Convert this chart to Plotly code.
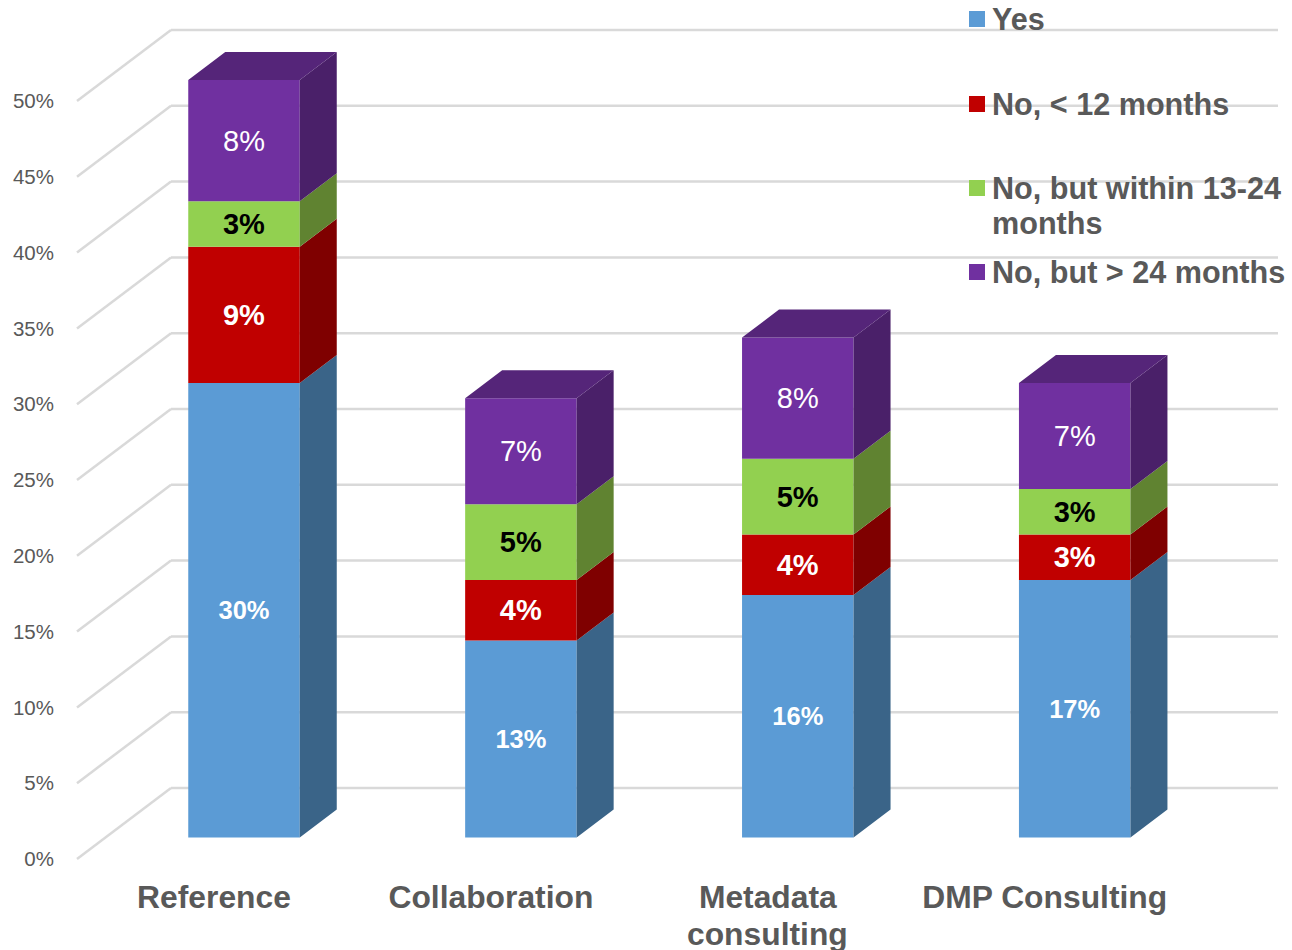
import plotly.graph_objects as go

categories = ["Reference", "Collaboration", "Metadata", "DMP Consulting"]
series_names = ["Yes", "No, < 12 months", "No, but within 13-24", "No, but > 24 months"]
yes = [30, 13, 16, 17]
no_12 = [9, 4, 4, 3]
no_24 = [3, 5, 5, 3]
no_over = [8, 7, 8, 7]
series_values = [yes, no_12, no_24, no_over]
y_ticks = list(range(0, 55, 5))

front_colors = ["#5B9BD5", "#C00000", "#92D050", "#7030A0"]
side_colors = ["#3A6488", "#7F0000", "#608331", "#4A2069"]
top_color = "#552579"
text_colors = ["white", "white", "black", "white"]
text_sizes = [25.5, 29, 29, 29]
text_weights = ["bold", "bold", "bold", "normal"]

FONT = "Liberation Sans"
W, H = 1292, 950
ML, MB = 55, 75
X0, XS = 244.0, 276.9   # pixel of category 0 centre, pixels per category
Y0, YS = 837.5, 15.15   # pixel of value 0 on the front plane, pixels per percent
GS = 15.16 / YS         # grid spacing relative to the bar scale
BAR = 111.5 / XS
DX, DY = 37 / XS, 28 / YS
BACK = 49.5 / YS        # rise of the back wall
FRONT = -21.5 / YS      # drop of the front edge of the floor


def px_x(p):
    return (p - X0) / XS


def px_y(p):
    return (Y0 - p) / YS


fig = go.Figure()
xs = list(range(len(categories)))
bases = [0] * len(categories)
for k, vals in enumerate(series_values):
    fig.add_trace(go.Bar(
        x=xs, y=vals, base=bases, width=BAR, name=series_names[k],
        marker=dict(color=front_colors[k], line=dict(width=0)),
        text=[f"{v}%" for v in vals], textposition="inside", insidetextanchor="middle",
        textangle=0, constraintext="none",
        textfont=dict(family=FONT, size=text_sizes[k], color=text_colors[k], weight=text_weights[k]),
        showlegend=False, hoverinfo="skip",
    ))
    px, py = [], []
    for i, v in enumerate(vals):
        r = i + BAR / 2
        b, t = bases[i], bases[i] + v
        px += [r, r + DX, r + DX, r, r, None]
        py += [b, b + DY, t + DY, t, b, None]
    fig.add_trace(go.Scatter(x=px, y=py, mode="none", fill="toself", fillcolor=side_colors[k],
                             showlegend=False, hoverinfo="skip"))
    bases = [a + v for a, v in zip(bases, vals)]

px, py = [], []
for i, t in enumerate(bases):
    l, r = i - BAR / 2, i + BAR / 2
    px += [l, r, r + DX, l + DX, l, None]
    py += [t, t, t + DY, t + DY, t, None]
fig.add_trace(go.Scatter(x=px, y=py, mode="none", fill="toself", fillcolor=top_color,
                         showlegend=False, hoverinfo="skip"))

shapes = []
grid = dict(color="#D9D9D9", width=2.5)
for v in y_ticks:
    shapes.append(dict(type="line", xref="x", yref="y", layer="below", line=grid,
                       x0=px_x(77), y0=v * GS + FRONT, x1=px_x(171), y1=v * GS + BACK))
    shapes.append(dict(type="line", xref="x", yref="y", layer="below", line=grid,
                       x0=px_x(171), y0=v * GS + BACK, x1=px_x(1278), y1=v * GS + BACK))

legend_lines = [[series_names[0]], [series_names[1]], [series_names[2], "months"], [series_names[3]]]
legend_y = [19, 104, 188, 272]
annotations = []
for k, lines in enumerate(legend_lines):
    yc = legend_y[k]
    shapes.append(dict(type="rect", xref="paper", yref="paper", layer="above", line=dict(width=0),
                       fillcolor=front_colors[k],
                       x0=(969 - ML) / (W - ML), x1=(985 - ML) / (W - ML),
                       y0=(H - MB - yc - 8) / (H - MB), y1=(H - MB - yc + 8) / (H - MB)))
    for j, line in enumerate(lines):
        annotations.append(dict(text=line, xref="paper", yref="paper", showarrow=False,
                                x=(991 - ML) / (W - ML), xanchor="left",
                                y=(H - MB - (yc + 35 * j)) / (H - MB), yanchor="middle",
                                borderpad=0, font=dict(family=FONT, size=30.6, color="#595959", weight="bold")))
annotations.append(dict(text="consulting", xref="x", yref="paper", showarrow=False,
                        x=2 - 30 / XS, xanchor="center", y=-(934 - (H - MB)) / (H - MB), yanchor="middle",
                        yshift=0, font=dict(family=FONT, size=31.8, color="#595959", weight="bold")))

fig.update_layout(
    width=W, height=H, margin=dict(l=ML, r=0, t=0, b=MB, pad=0),
    paper_bgcolor="white", plot_bgcolor="white", barmode="overlay", showlegend=False,
    shapes=shapes, annotations=annotations,
    xaxis=dict(range=[px_x(ML), px_x(W)], tickmode="array", tickvals=[i - 30 / XS for i in xs],
               ticktext=categories, showgrid=False, zeroline=False, showline=False, ticks="",
               tickfont=dict(family=FONT, size=31.8, color="#595959", weight="bold")),
    yaxis=dict(range=[px_y(H - MB), px_y(0)], tickmode="array", tickvals=[v * GS + FRONT for v in y_ticks],
               ticktext=[f"{v}%" for v in y_ticks], showgrid=False, zeroline=False, showline=False, ticks="",
               tickfont=dict(family=FONT, size=20.5, color="#595959")),
)
fig.write_html("out.html", config={"displayModeBar": False},
               post_script="document.body.style.margin='0';")
